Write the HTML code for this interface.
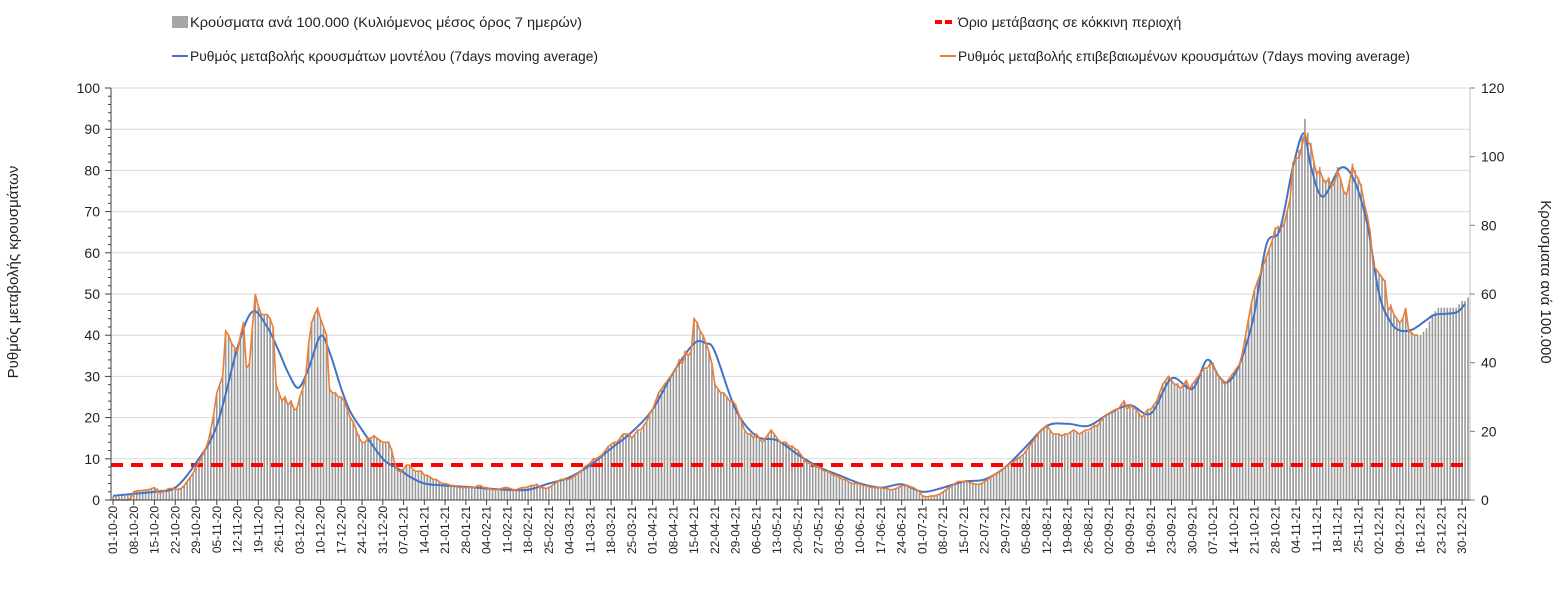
<!DOCTYPE html>
<html><head><meta charset="utf-8">
<style>
html,body{margin:0;padding:0;background:#fff;}
svg{display:block;font-family:"Liberation Sans",sans-serif;}
</style></head>
<body>
<svg id="chart" width="1564" height="594" viewBox="0 0 1564 594" xmlns="http://www.w3.org/2000/svg">
<g id="grid"></g>
<g id="bars"></g>
<line id="redline" stroke="#ff0000" stroke-width="4" stroke-dasharray="12,8"/>
<path id="blue" fill="none" stroke="#4472c4" stroke-width="2"/>
<path id="orange" fill="none" stroke="#ed7d31" stroke-width="1.6"/>
<g id="axes"></g>
<g font-size="14" fill="#222">
  <g>
    <rect x="172" y="16" width="16" height="12" fill="#a6a6a6"/>
    <text x="190" y="27" textLength="392" lengthAdjust="spacingAndGlyphs">Κρούσματα ανά 100.000 (Κυλιόμενος μέσος όρος 7 ημερών)</text>
  </g>
  <g>
    <line x1="935" y1="22" x2="955" y2="22" stroke="#ff0000" stroke-width="4" stroke-dasharray="7,3"/>
    <text x="958" y="27">Όριο μετάβασης σε κόκκινη περιοχή</text>
  </g>
  <g>
    <line x1="172" y1="56" x2="188" y2="56" stroke="#4472c4" stroke-width="2"/>
    <text x="190" y="61" textLength="408" lengthAdjust="spacingAndGlyphs">Ρυθμός μεταβολής κρουσμάτων μοντέλου (7days moving average)</text>
  </g>
  <g>
    <line x1="940" y1="56" x2="956" y2="56" stroke="#ed7d31" stroke-width="2"/>
    <text x="958" y="61" textLength="452" lengthAdjust="spacingAndGlyphs">Ρυθμός μεταβολής επιβεβαιωμένων κρουσμάτων (7days moving average)</text>
  </g>
</g>
<text font-size="15" fill="#222" text-anchor="middle" transform="translate(18,272) rotate(-90)">Ρυθμός μεταβολής κρουσμάτων</text>
<text font-size="15" fill="#222" text-anchor="middle" transform="translate(1541,282) rotate(90)">Κρουσματα ανά 100.000</text>
</svg>
<script>
const orangeVals = [
0,0,0,0,0,0,0.5, 2,2.2,2.3,2.3,2.4,2.5,2.8, 3,1.8,1.8,2,2.5,2.8,2.8, 2.6,2.6,2.8,3.5,4.5,5.5,6.5,
8,9,10.5,12,14,17,21, 26,28,30,41,40,38,37, 36,40,43,32,33,42,50, 47,45,45,45,44,42,28,
26,24,25,23,24,22,22, 25,27,30,38,43,45,46.5, 44,42,40,27,26,26,25, 25,24,22,20,19,17,15,
14,14,15,15,15.5,15,14.5, 14,14,14,12,9,7,7, 7.5,8.5,8.5,7.5,7,7,7, 6,6,5.5,5,5,4.5,4,
4,3.8,3.5,3.5,3.2,3,3, 3,3,3.2,3,3.5,3.5,3, 3,2.8,2.5,2.5,2.5,2.8,3, 3,2.8,2.5,2.5,2.8,3,3,
3.2,3.5,3.5,3.8,3,3,2.8, 3,3.5,4,4.5,5,5,5, 5,5.5,6,6.5,7,8,8.5, 9,10,10,10.5,11,12,13,
13.5,14,14,15,16,16,16, 15,16,17,17,18,19,21, 22,24,26,27,28,29,30, 31,32,34,33,36,35,36,
44,43,41,40,38,36,33, 28,27,26,26,25,24,24, 23,21,19,17,16,16,15, 16,15,14,15,16,17,16,
15,14,14,14,13,13,12.5, 12,11,10,9,9,8.5,8, 8,7.5,7,7,6.5,6,6, 5.5,5,5,4.5,4,4,4,
3.8,3.5,3.5,3.2,3,3,3, 3,2.8,2.8,2.5,2.5,2.8,3, 3.5,3.5,3.5,3.2,3,2.5,2, 1,0.8,0.8,1,1,1.2,1.5,
2,2.5,3,3.5,4,4.5,4.5, 4.5,4.5,4.2,4,3.8,3.8,4, 4.5,5,5.5,6,6.5,7,7.5, 8,8.5,9,9.5,10,10.5,11,
12,13,14,15,16,17,17.5, 18,17,16,16,16,15.5,16, 16,16.5,17,16.5,16,16.5,17, 17,17.5,18,18,19,20,20.5,
21,21.5,22,22,23,24,22, 23,22.5,22,21,20,21,22, 22,23,24,26,28,29,30, 29,28,28,27,28,29,27,
28,29,30,31,32,32,33, 33,31,30,29,28,29,30, 31,32,33,36,40,44,48, 51,53,55,57,59,61,63,
66,66,66,67,70,73,82, 83,83,86,89,87,86,82, 79,80,78,77,78,76,77, 80,78,75,74,77,81,79,
78,76,72,69,65,57,56, 55,54,53,46,47,45,44, 43,44,46.5,41,40.5,40,40
];
const barVals = [
1,1,1,1.2,1.2,1.5,1.5, 2.6,2.8,2.9,3,3,3,3.4, 3.6,3.4,3,3,3.2,3.4,3.4, 3.2,3.2,3.4,4.2,5.4,6.6,7.8,
9.6,10.8,12.6,14.4,16.8,20,25, 31,34,36,49,48,46,44, 43,48,52,38,40,50,60, 57,54,54,54,53,50,34,
31,29,30,28,29,27,27, 30,32,36,46,52,54,56, 53,50,48,33,31,31,30, 30,29,27,24,23,21,19,
17,17,18,18,19,18,17.5, 17,17,17,15,11,9,9, 9,10,10,9,8.5,8.5,8.5, 7.2,7.2,6.6,6,6,5.4,4.8,
4.8,4.6,4.2,4.2,4,3.6,3.6, 3.6,3.6,3.8,3.6,4.2,4.2,3.6, 3.6,3.4,3,3,3,3.4,3.6, 3.6,3.4,3,3,3.4,3.6,3.6,
4,4.2,4.2,4.6,3.6,3.6,3.4, 3.6,4.2,4.8,5.4,6,6,6, 6,6.6,7.2,7.8,8.4,9.6,10, 11,12,12,12.6,13,14.4,15.6,
16,17,17,18,19,19,19, 18,19,20,20,22,23,25, 26,29,31,32,34,35,36, 37,38,41,40,43,42,43,
53,52,49,48,46,43,40, 34,32,31,31,30,29,29, 28,25,23,20,19,19,18, 19,18,17,18,19,20,19,
18,17,17,17,16,16,15, 14,13,12,11,11,10,10, 10,9,8.4,8.4,7.8,7.2,7.2, 6.6,6,6,5.4,4.8,4.8,4.8,
4.6,4.2,4.2,3.8,3.6,3.6,3.6, 3.6,3.4,3.4,3,3,3.4,3.6, 4.2,4.2,4.2,3.8,3.6,3,2.4, 1.2,1,1,1.2,1.2,1.4,1.8,
2.4,3,3.6,4.2,4.8,5.4,5.4, 5.4,5.4,5,4.8,4.6,4.6,4.8, 5.4,6,6.6,7.2,7.8,8.4,9, 9.6,10,11,11.4,12,12.6,13,
14.4,15.6,17,18,19,20,21, 22,20,19,19,19,19,19, 19,20,20,20,19,20,20, 20,21,22,22,23,24,25,
25,26,26,26,28,29,26, 28,27,26,25,24,25,26, 26,28,29,31,34,35,36, 35,34,34,32,34,35,32,
34,35,36,37,38,38,40, 40,37,36,35,34,35,36, 37,38,40,43,48,53,58, 61,64,66,68,71,73,76,
79,80,80,81,84,88,98, 100,102,106,111,107,104,99, 96,97,94,93,94,91,93, 97,94,90,89,93,98,96,
94,92,87,83,78,69,67, 66,65,64,56,57,54,53, 52,53,56,50,49,48,48, 48,49,50,52,54,55,56,
56,56,56,56,56,56,57, 58,58,59
];
const blueDays = [0,7,14,21,28,35,42,47,52,56,59,62.5,66,70,73,77,80,84,91,96,100,105,112,119,126,133,140,147,154,161,168,175,182,189,196,200,203,210,217,224,231,238,245,252,259,266,273,280,287,294,301,308,315,322,329,336,343,350,357,364,369,373,376,380,384.6,389,393.5,398,401.6,404,408,414,418.5,423,427,430.5,433.5,438,443,446,453,456];
const blueVals = [1,1.5,2,3,9,18,37,45.7,42,36,31,27.2,32,39.8,36,27,21.5,17,10,7.7,5.7,4,3.5,3.2,2.8,2.5,2.5,4,5.5,8.5,12.5,16.5,22,31,38,38,36,22,15.5,14.5,11,8,6,4,3,3.8,2,3,4.5,5,8,13,18,18.5,18,21,23,21,29.5,27,34,30,28.6,33,44,62,65.5,81,89,81,73.6,80.6,77.7,67,50,43.7,41.3,41.3,43.7,45,45.5,47.6];
const leftTicks = [0,10,20,30,40,50,60,70,80,90,100];
const rightTicks = [0,20,40,60,80,100,120];
const threshold = [8.5];
const startDate = [2020,9,1];
const tickStepDays = 7;
const tickCount = 66;

const NS="http://www.w3.org/2000/svg";
const X0=113, DAYW=2.965, Y0=500, PH=412, XR=1470;
function xD(d){return X0+d*DAYW;}
function yL(v){return Y0-v*PH/100;}
function yR(v){return Y0-v*PH/120;}
function mk(tag,attrs,parent){const e=document.createElementNS(NS,tag);for(const k in attrs)e.setAttribute(k,attrs[k]);parent.appendChild(e);return e;}

const grid=document.getElementById('grid');
leftTicks.forEach(v=>{ if(v===0)return;
  const l=mk('line',{x1:111,x2:XR,y1:yL(v),y2:yL(v),stroke:'#d9d9d9','stroke-width':1},grid);
  
  
});

const bars=document.getElementById('bars');
barVals.forEach((v,i)=>{
  const r=mk('rect',{x:xD(i)-0.8,y:yR(v),width:1.6,height:Y0-yR(v),fill:'#999999'},bars);
  
  
});

const rl=document.getElementById('redline');
rl.setAttribute('x1',111);rl.setAttribute('x2',XR);
rl.setAttribute('y1',yL(threshold[0]));rl.setAttribute('y2',yL(threshold[0]));

let od='';
orangeVals.forEach((v,i)=>{od+=(i?'L':'M')+xD(i).toFixed(1)+','+yL(v).toFixed(1);});
document.getElementById('orange').setAttribute('d',od);

const pts=blueDays.map((d,i)=>[xD(d),yL(blueVals[i])]);
let bd='M'+pts[0][0]+','+pts[0][1];
for(let i=0;i<pts.length-1;i++){
  const p0=pts[i-1]||pts[i],p1=pts[i],p2=pts[i+1],p3=pts[i+2]||p2;
  const c1=[p1[0]+(p2[0]-p0[0])/6,p1[1]+(p2[1]-p0[1])/6];
  const c2=[p2[0]-(p3[0]-p1[0])/6,p2[1]-(p3[1]-p1[1])/6];
  bd+='C'+c1[0].toFixed(1)+','+c1[1].toFixed(1)+' '+c2[0].toFixed(1)+','+c2[1].toFixed(1)+' '+p2[0].toFixed(1)+','+p2[1].toFixed(1);
}
document.getElementById('blue').setAttribute('d',bd);

const ax=document.getElementById('axes');
mk('line',{x1:111,x2:111,y1:88,y2:Y0,stroke:'#404040','stroke-width':1},ax);
mk('line',{x1:XR,x2:XR,y1:88,y2:Y0,stroke:'#bfbfbf','stroke-width':1},ax);
mk('line',{x1:111,x2:XR,y1:Y0,y2:Y0,stroke:'#404040','stroke-width':1},ax);
for(let v=0;v<=100;v+=2){mk('line',{x1:v%10===0?105:108,x2:111,y1:yL(v),y2:yL(v),stroke:'#404040','stroke-width':1},ax);}
leftTicks.forEach(v=>{
  const t=mk('text',{x:100,y:yL(v)+5,'font-size':14,'text-anchor':'end',fill:'#222'},ax);
  t.textContent=v;
  
  
});
rightTicks.forEach(v=>{
  mk('line',{x1:XR,x2:XR+5,y1:yR(v),y2:yR(v),stroke:'#808080','stroke-width':1},ax);
  const t=mk('text',{x:1481,y:yR(v)+5,'font-size':14,fill:'#222'},ax);
  t.textContent=v;
  
  
});
function pad(n){return (n<10?'0':'')+n;}
for(let k=0;k<tickCount;k++){
  const d=k*tickStepDays;
  const dt=new Date(Date.UTC(startDate[0],startDate[1],startDate[2]+d));
  const lab=pad(dt.getUTCDate())+'-'+pad(dt.getUTCMonth()+1)+'-'+String(dt.getUTCFullYear()).slice(2);
  const x=xD(d);
  mk('line',{x1:x,x2:x,y1:Y0,y2:Y0+5,stroke:'#404040','stroke-width':1},ax);
  const t=mk('text',{'font-size':12,'text-anchor':'end',fill:'#222',transform:'translate('+(x+4)+','+(Y0+6)+') rotate(-90)'},ax);
  t.textContent=lab;
  
  
}
</script>
</body></html>
